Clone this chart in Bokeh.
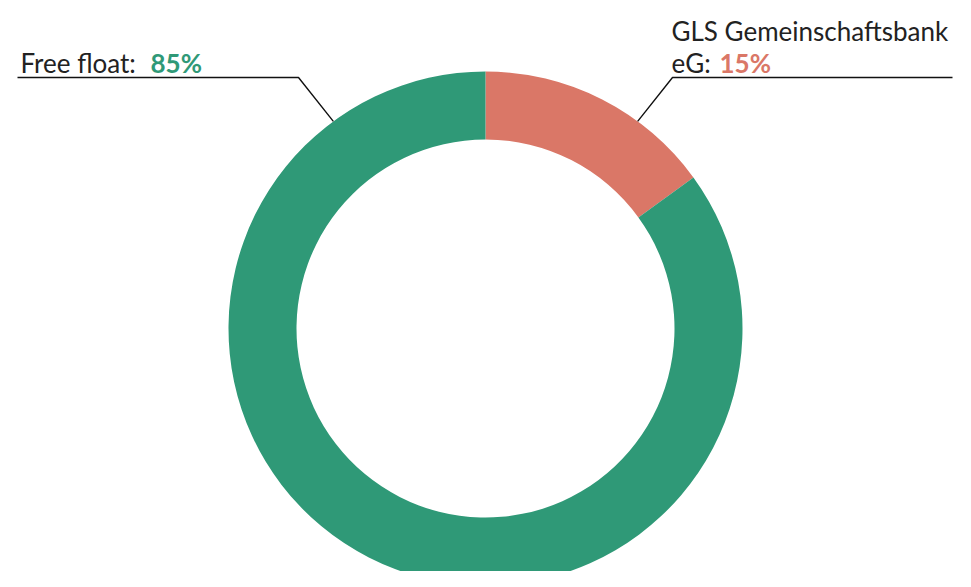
import math
from bokeh.plotting import figure
from bokeh.models import ColumnDataSource
from bokeh.core.properties import value
from bokeh.embed import file_html
from bokeh.resources import INLINE

# ---- data ----
holders = ["GLS Gemeinschaftsbank eG", "Free float"]
shares = [15, 85]
share_labels = ["15%", "85%"]
colors = ["#DA7767", "#2F9977"]

# ---- layout (pixel-like data coordinates) ----
W, H = 955, 571
cx, cy = 485, 243
r_out, r_in = 257, 189

total = sum(shares)
starts, ends = [], []
acc = 0
for s in shares:
    starts.append(math.pi / 2 - 2 * math.pi * acc / total)
    acc += s
    ends.append(math.pi / 2 - 2 * math.pi * acc / total)

src = ColumnDataSource(dict(x=[cx] * len(shares), y=[cy] * len(shares),
                            start=starts, end=ends, color=colors, holder=holders))

p = figure(width=W, height=H, x_range=(0, W), y_range=(0, H),
           output_backend="svg", toolbar_location=None, min_border=0)
p.axis.visible = False
p.grid.visible = False
p.outline_line_color = None
p.background_fill_color = "white"

p.annular_wedge(x="x", y="y", inner_radius=r_in, outer_radius=r_out,
                start_angle="start", end_angle="end", direction="clock",
                fill_color="color", line_color=None, source=src)

# leader lines
ang_off = math.radians(36.3)
for side in (-1, 1):
    a = math.pi / 2 - side * ang_off
    ex, ey = cx + r_out * math.cos(a), cy + r_out * math.sin(a)
    kx, ky = cx + side * 187, cy + 251
    hx = cx - 468 if side < 0 else cx + 467
    p.line([ex, kx, hx], [ey, ky, ky], line_color="#111111", line_width=1.4)

font = value("Lato")
txt_col = "#222222"
fs = "26px"

# left label
p.text(x=[20], y=[509], text=["Free float:"], text_font=font, text_font_size=fs,
       text_color=txt_col, text_baseline="alphabetic", text_align="left")
p.text(x=[150], y=[509], text=[share_labels[1]], text_font=font, text_font_size=fs,
       text_font_style="bold", text_color=colors[1], text_baseline="alphabetic", text_align="left")

# right label
p.text(x=[671], y=[541], text=["GLS Gemeinschaftsbank"], text_font=font, text_font_size=fs,
       text_color=txt_col, text_baseline="alphabetic", text_align="left")
p.text(x=[671], y=[509], text=["eG:"], text_font=font, text_font_size=fs,
       text_color=txt_col, text_baseline="alphabetic", text_align="left")
p.text(x=[719], y=[509], text=[share_labels[0]], text_font=font, text_font_size=fs,
       text_font_style="bold", text_color=colors[0], text_baseline="alphabetic", text_align="left")

open("out.html", "w").write(file_html(p, INLINE))
